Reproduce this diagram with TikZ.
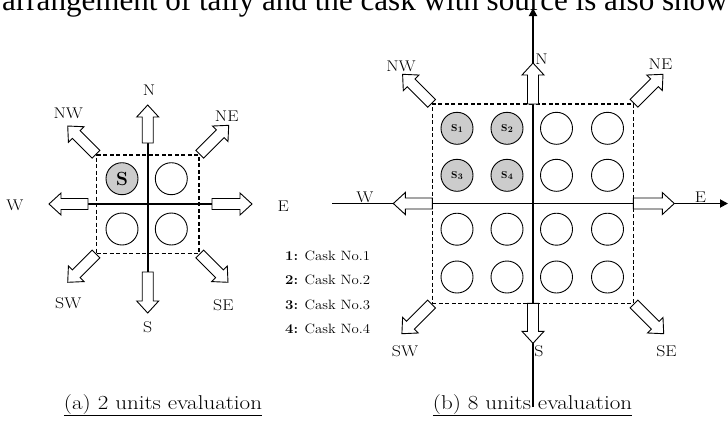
\documentclass[tikz,border=0pt]{standalone}
\usepackage{fontspec}
\usepackage{graphicx}
\newfontfamily\timesfont{Liberation Serif}
\usetikzlibrary{arrows.meta}
\newcommand{\widetext}[2][1.15]{\scalebox{#1}[1]{#2}}
\tikzset{
  lbl/.style={font=\fontsize{15.5}{15.5}\selectfont, inner sep=0pt},
  legend/.style={font=\fontsize{13.5}{13.5}\selectfont, inner sep=0pt, anchor=west},
  caption/.style={font=\fontsize{20}{20}\selectfont, inner sep=0pt, anchor=base},
  cask/.style={circle, draw, line width=0.9pt, minimum size=32pt, inner sep=0pt},
  src/.style={cask, fill=black!20},
  zone/.style={draw, dash pattern=on 4pt off 2.5pt, line width=1.4pt, inner sep=0pt},
  crossline/.style={line width=1.8pt},
  axisline/.style={line width=1.8pt, -{Triangle[length=8pt,width=8pt]}},
  pics/barrow/.style={code={
    \draw[line width=0.9pt, fill=white] (0,-5.5) -- (#1-12,-5.5) -- (#1-12,-11) -- (#1,0)
      -- (#1-12,11) -- (#1-12,5.5) -- (0,5.5) -- cycle;}},
}
\newcommand{\subS}[1]{\textbf{S}\kern0.2pt\raisebox{-1.3pt}{\fontsize{8.5}{8.5}\selectfont\bfseries #1}}
\begin{document}
\begin{tikzpicture}[x=1pt,y=-1pt]
\useasboundingbox (0,0) rectangle (728,424);
\clip (0,0) rectangle (728,424);

% top text line (cut off)
\node[anchor=base west, inner sep=0pt, font=\timesfont\fontsize{31.1}{31.1}\selectfont] (toptext) at (2,10)
  {arrangement of tally and the cask with source is also shown};

% ================= (a) left diagram =================
\coordinate (LN) at (147.7,143);
\coordinate (LS) at (147.7,272);
\coordinate (LW) at (88,204);
\coordinate (LE) at (212,204);
\node[zone, minimum width=102.3pt, minimum height=98.3pt] (Lsq) at (147.85,204.15) {};
\draw[crossline] (LN) -- (LS);
\draw[crossline] (LW) -- (LE);

\node[src] (La) at (122,178.7) {\fontsize{19}{19}\selectfont\bfseries S};
\node[cask] (Lb) at (171.3,178.7) {};
\node[cask] (Lc) at (122,229) {};
\node[cask] (Ld) at (171.3,229) {};

\pic[rotate=90] at (LN) {barrow=38};
\pic[rotate=270] at (LS) {barrow=41};
\pic[rotate=180] at (LW) {barrow=39};
\pic[rotate=0] at (LE) {barrow=40};
\pic[rotate=135] at (Lsq.north west) {barrow=40};
\pic[rotate=45] at (Lsq.north east) {barrow=41};
\pic[rotate=225] at (Lsq.south west) {barrow=40};
\pic[rotate=315] at (Lsq.south east) {barrow=40};

\node[lbl] (lN) at (149,90) {\widetext{N}};
\node[lbl] (lNW) at (68.3,113.3) {\widetext{NW}};
\node[lbl] (lNE) at (226.7,116.7) {\widetext{NE}};
\node[lbl] (lW) at (15,205.7) {\widetext{W}};
\node[lbl] (lE) at (283.3,206.7) {\widetext{E}};
\node[lbl] (lSW) at (68.3,303.3) {\widetext{SW}};
\node[lbl] (lSE) at (223.3,305) {\widetext{SE}};
\node[lbl] (lS) at (147.7,327) {\widetext{S}};

\node[caption] (capA) at (163,409) {\underline{\widetext{(a) 2 units evaluation}}};

% legend
\node[legend] (leg1) at (285,255.7) {\widetext[1.1]{\textbf{1:} Cask No.1}};
\node[legend] (leg2) at (285,280.3) {\widetext[1.1]{\textbf{2:} Cask No.2}};
\node[legend] (leg3) at (285,305) {\widetext[1.1]{\textbf{3:} Cask No.3}};
\node[legend] (leg4) at (285,329.3) {\widetext[1.1]{\textbf{4:} Cask No.4}};

% ================= (b) right diagram =================
\coordinate (Rbot) at (533,407);
\coordinate (Rtop) at (533,8);
\coordinate (Rleft) at (332,203.5);
\coordinate (Rright) at (728,203.5);
\coordinate (RN) at (533,104);
\coordinate (RS) at (533,303.3);
\coordinate (RW) at (432.3,203.5);
\coordinate (RE) at (633.3,203.5);

\node[zone, minimum width=201pt, minimum height=199.3pt] (Rsq) at (532.8,203.65) {};
\draw[axisline] (Rbot) -- (Rtop);
\draw[axisline] (Rleft) -- (Rright);

\node[src] (s1) at (457,128.3) {\subS{1}};
\node[src] (s2) at (507,128.3) {\subS{2}};
\node[cask] (c13) at (556.5,128.3) {};
\node[cask] (c14) at (607.5,128.3) {};
\node[src] (s3) at (457,175.3) {\subS{3}};
\node[src] (s4) at (507,175.3) {\subS{4}};
\node[cask] (c23) at (556.5,175.3) {};
\node[cask] (c24) at (607.5,175.3) {};
\node[cask] (c31) at (457,229.2) {};
\node[cask] (c32) at (507,229.2) {};
\node[cask] (c33) at (556.5,229.2) {};
\node[cask] (c34) at (607.5,229.2) {};
\node[cask] (c41) at (457,277) {};
\node[cask] (c42) at (507,277) {};
\node[cask] (c43) at (556.5,277) {};
\node[cask] (c44) at (607.5,277) {};

\pic[rotate=90] at (RN) {barrow=41};
\pic[rotate=270] at (RS) {barrow=40};
\pic[rotate=180] at (RW) {barrow=39};
\pic[rotate=0] at (RE) {barrow=41};
\pic[rotate=135] at (Rsq.north west) {barrow=41};
\pic[rotate=45] at (Rsq.north east) {barrow=41};
\pic[rotate=225] at (Rsq.south west) {barrow=42};
\pic[rotate=315] at (Rsq.south east) {barrow=42};

\node[lbl] (rN) at (541.5,59) {\widetext{N}};
\node[lbl] (rNW) at (401,66.5) {\widetext{NW}};
\node[lbl] (rNE) at (660.5,64) {\widetext{NE}};
\node[lbl] (rW) at (365,197.5) {\widetext{W}};
\node[lbl] (rE) at (700.5,197.2) {\widetext{E}};
\node[lbl] (rSW) at (405,351) {\widetext{SW}};
\node[lbl] (rS) at (539,351) {\widetext{S}};
\node[lbl] (rSE) at (666.5,351) {\widetext{SE}};

\node[caption] (capB) at (532.5,409) {\underline{\widetext{(b) 8 units evaluation}}};
\end{tikzpicture}
\end{document}
